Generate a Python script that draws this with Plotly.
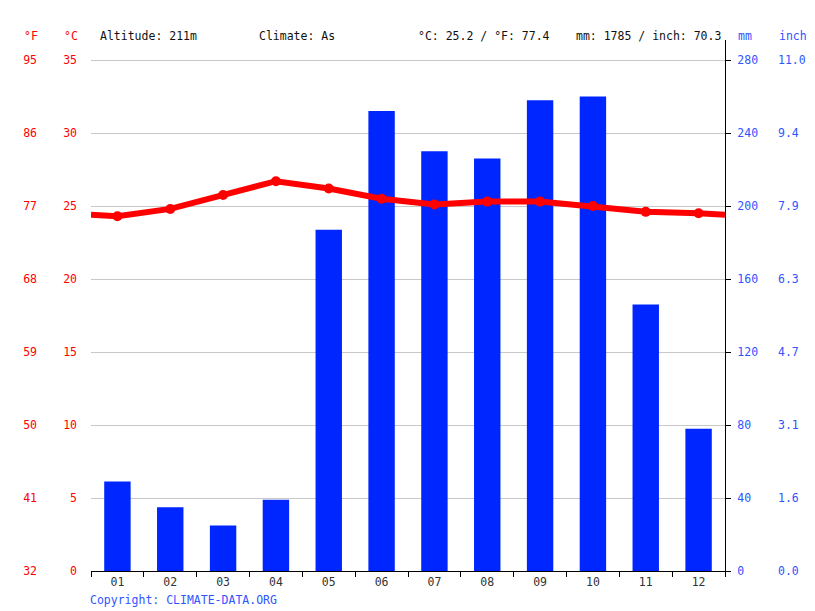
import plotly.graph_objects as go

months = ["01", "02", "03", "04", "05", "06", "07", "08", "09", "10", "11", "12"]
precip_mm = [49, 35, 25, 39, 187, 252, 230, 226, 258, 260, 146, 78]
temp_c = [24.3, 24.8, 25.75, 26.7, 26.2, 25.5, 25.1, 25.3, 25.3, 25.0, 24.6, 24.5]
c_ticks = [0, 5, 10, 15, 20, 25, 30, 35]
mm_ticks = [0, 40, 80, 120, 160, 200, 240, 280]

W, H = 815, 611
X0, X1 = 91, 725
Y_TOP, Y_BOT, Y35 = 40, 571, 60
frac = (Y_BOT - Y_TOP) / (Y_BOT - Y35)
c_top = 35 * frac
mm_top = 280 * frac

RED = "#ff0000"
BLUE = "#0026ff"
BLUE_TXT = "#2f55ff"
FONT = "DejaVu Sans Mono"

xnum = list(range(1, 13))
edge = (temp_c[0] + temp_c[-1]) / 2
line_x = [0.5] + xnum + [12.5]
line_y = [edge] + temp_c + [edge]

fig = go.Figure()
fig.add_trace(go.Bar(x=months, y=precip_mm, marker=dict(color=BLUE, line=dict(width=0)),
                     width=0.5, xaxis="x", yaxis="y", hoverinfo="skip"))
fig.add_trace(go.Bar(x=months, y=[v / 25.4 for v in precip_mm],
                     marker=dict(color="rgba(0,0,0,0)", line=dict(width=0)),
                     width=0.5, xaxis="x", yaxis="y4", hoverinfo="skip"))
fig.add_trace(go.Scatter(x=xnum, y=[c * 1.8 + 32 for c in temp_c], mode="lines",
                         line=dict(color="rgba(0,0,0,0)"), xaxis="x2", yaxis="y3", hoverinfo="skip"))
fig.add_trace(go.Scatter(x=line_x, y=line_y, mode="lines", line=dict(color=RED, width=6),
                         xaxis="x2", yaxis="y2", hoverinfo="skip"))
fig.add_trace(go.Scatter(x=xnum, y=temp_c, mode="markers", marker=dict(color=RED, size=10),
                         xaxis="x2", yaxis="y2", hoverinfo="skip"))

dom_x = [X0 / W, X1 / W]
dom_y = [1 - Y_BOT / H, 1 - Y_TOP / H]

fig.update_layout(
    width=W, height=H, margin=dict(l=0, r=0, t=0, b=0),
    paper_bgcolor="white", plot_bgcolor="white", showlegend=False,
    font=dict(family=FONT, size=11.5),
    barmode="overlay",
    xaxis=dict(domain=dom_x, type="category", tickson="boundaries", ticks="outside",
               ticklen=5, tickcolor="black", showline=True, linecolor="black", linewidth=1,
               showgrid=False, tickfont=dict(color="#333", family=FONT, size=11.5),
               anchor="y", automargin=False, fixedrange=True),
    xaxis2=dict(domain=dom_x, overlaying="x", range=[0.5, 12.5], visible=False,
                anchor="y2", fixedrange=True),
    yaxis=dict(domain=dom_y, side="right", anchor="x", range=[0, mm_top],
               tickvals=mm_ticks, ticks="outside", ticklen=5, tickcolor="black",
               showline=True, linecolor="black", linewidth=1, showgrid=False,
               zeroline=False, tickfont=dict(color=BLUE_TXT, family=FONT, size=11.5),
               ticklabelstandoff=4, automargin=False, fixedrange=True),
    yaxis2=dict(domain=dom_y, overlaying="y", side="left", anchor="free", position=X0 / W,
                range=[0, c_top], tickvals=c_ticks, ticks="", showline=False,
                showgrid=True, gridcolor="#c8c8c8", gridwidth=1, zeroline=False,
                tickfont=dict(color=RED, family=FONT, size=11.5),
                ticklabelstandoff=14, automargin=False, fixedrange=True),
    yaxis3=dict(domain=dom_y, overlaying="y", side="left", anchor="free", position=X0 / W,
                range=[32, 32 + c_top * 1.8], tickvals=[c * 1.8 + 32 for c in c_ticks],
                ticktext=[str(round(c * 1.8 + 32)) for c in c_ticks], ticks="",
                showline=False, showgrid=False, zeroline=False,
                tickfont=dict(color=RED, family=FONT, size=11.5),
                ticklabelstandoff=54, automargin=False, fixedrange=True),
    yaxis4=dict(domain=dom_y, overlaying="y", side="right", anchor="free", position=X1 / W,
                range=[0, mm_top / 25.4], tickvals=[m / 25.4 for m in mm_ticks],
                ticktext=[f"{m / 25.4:.1f}" for m in mm_ticks], ticks="",
                showline=False, showgrid=False, zeroline=False,
                tickfont=dict(color=BLUE_TXT, family=FONT, size=11.5),
                ticklabelstandoff=52, automargin=False, fixedrange=True),
)


def ann(x, text, color, y=36, anchor="left"):
    fig.add_annotation(x=(x - 2) / W, y=1 - y / H, xref="paper", yref="paper", text=text,
                       showarrow=False, xanchor=anchor, yanchor="middle",
                       font=dict(family=FONT, size=11.5, color=color))


ann(24, "°F", RED)
ann(64, "°C", RED)
ann(100, "Altitude: 211m", "#111")
ann(259, "Climate: As", "#111")
ann(418, "°C: 25.2 / °F: 77.4", "#111")
ann(576, "mm: 1785 / inch: 70.3", "#111")
ann(738, "mm", BLUE_TXT)
ann(779, "inch", BLUE_TXT)
ann(90, "Copyright: CLIMATE-DATA.ORG", BLUE_TXT, y=600)

fig.write_html("out.html")
